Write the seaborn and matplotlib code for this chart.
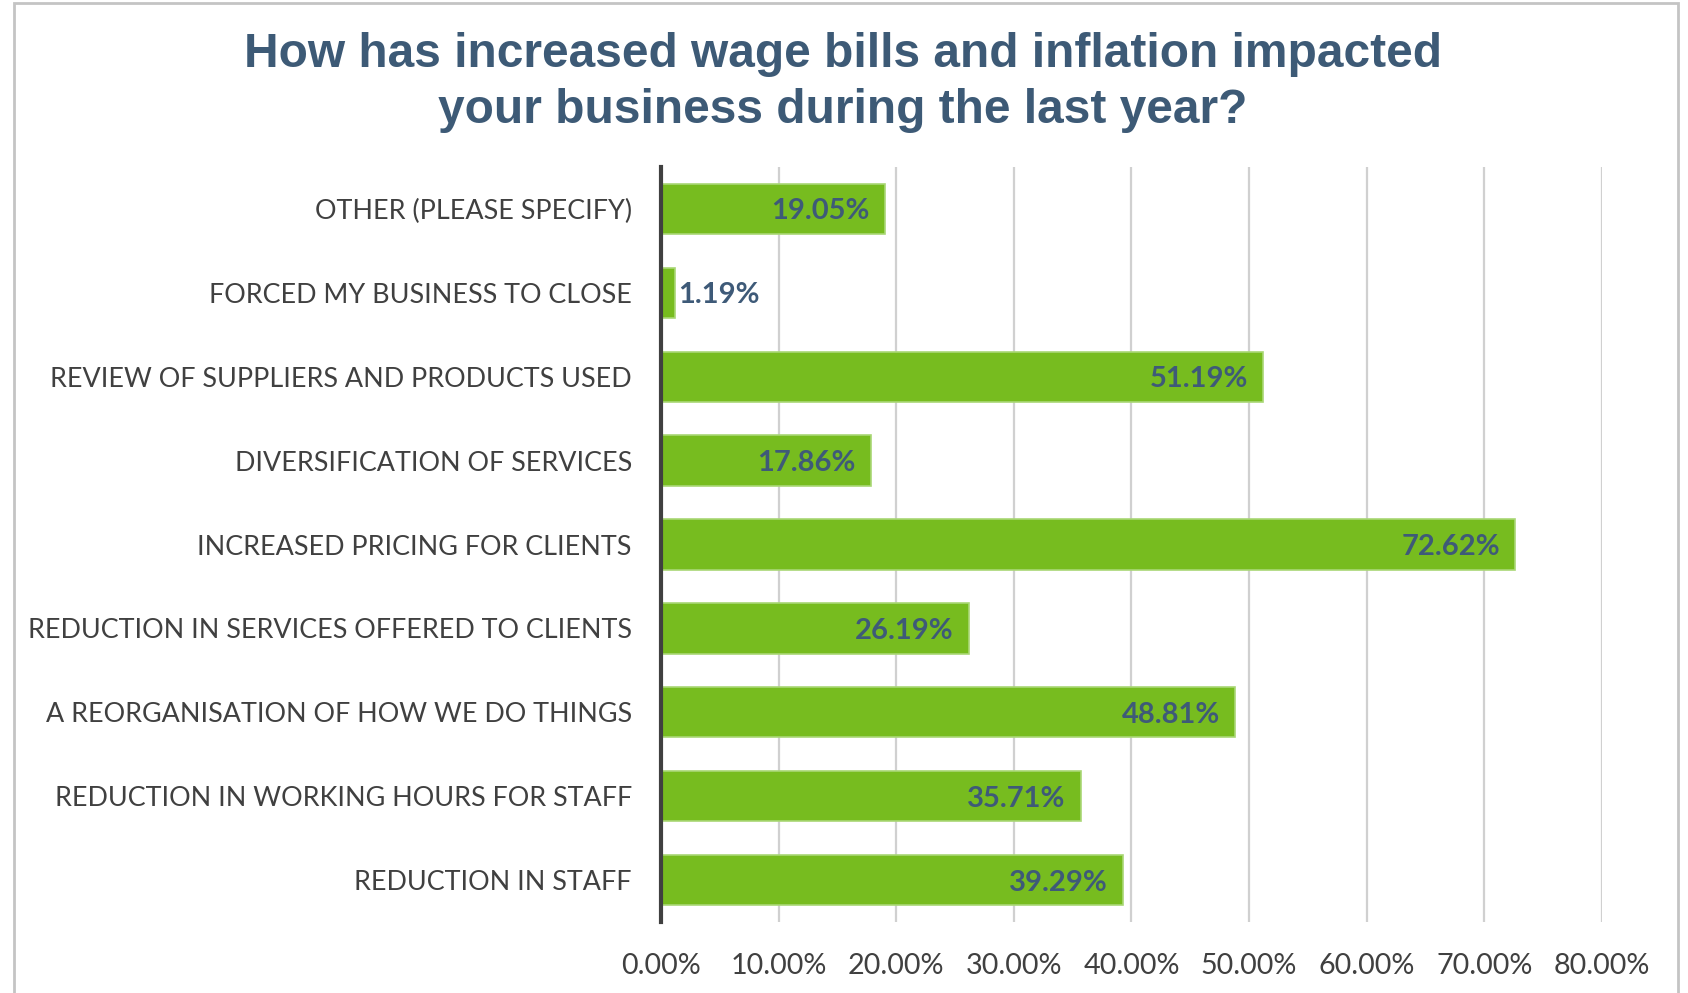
import matplotlib
matplotlib.use("Agg")
import matplotlib.pyplot as plt
from matplotlib.patches import Rectangle
import seaborn as sns
import pandas as pd

# Survey responses (share of respondents, %)
categories = [
    "OTHER (PLEASE SPECIFY)",
    "FORCED MY BUSINESS TO CLOSE",
    "REVIEW OF SUPPLIERS AND PRODUCTS USED",
    "DIVERSIFICATION OF SERVICES",
    "INCREASED PRICING FOR CLIENTS",
    "REDUCTION IN SERVICES OFFERED TO CLIENTS",
    "A REORGANISATION OF HOW WE DO THINGS",
    "REDUCTION IN WORKING HOURS FOR STAFF",
    "REDUCTION IN STAFF",
]
values = [19.05, 1.19, 51.19, 17.86, 72.62, 26.19, 48.81, 35.71, 39.29]
x_ticks = [0, 10, 20, 30, 40, 50, 60, 70, 80]
x_tick_labels = ["0.00%", "10.00%", "20.00%", "30.00%", "40.00%",
                 "50.00%", "60.00%", "70.00%", "80.00%"]
title = "How has increased wage bills and inflation impacted\nyour business during the last year?"

GREEN = "#77BC1F"
GREEN_EDGE = "#A9D775"
LABEL_BLUE = "#3E5A78"
TITLE_BLUE = "#3D5A76"
TEXT_GREY = "#404040"

sns.set_theme(style="white")
plt.rcParams["font.family"] = ["Lato", "DejaVu Sans"]

df = pd.DataFrame({"category": categories, "value": values})

fig = plt.figure(figsize=(16.88, 9.93), dpi=100)
ax = fig.add_axes([0.3916, 0.0715, 0.9490 - 0.3916, 0.8318 - 0.0715])

sns.barplot(data=df, x="value", y="category", order=categories, orient="h",
            color=GREEN, saturation=1, width=0.6, edgecolor=GREEN_EDGE,
            linewidth=1.2, ax=ax)

ax.set_xlim(0, 80)
ax.set_xticks(x_ticks)
ax.set_xticklabels(x_tick_labels)
ax.set_xlabel("")
ax.set_ylabel("")
ax.grid(axis="x", color="#D0D0D0", linewidth=1.6)
ax.grid(axis="y", visible=False)
ax.set_axisbelow(True)

for side in ("top", "right", "bottom"):
    ax.spines[side].set_visible(False)
ax.spines["left"].set_color(TEXT_GREY)
ax.spines["left"].set_linewidth(3)
ax.spines["left"].set_zorder(5)

ax.tick_params(axis="y", length=0, pad=21, labelsize=19.35, labelcolor=TEXT_GREY)
ax.tick_params(axis="x", length=0, pad=22, labelsize=20.7, labelcolor=TEXT_GREY)

# Value labels: inside the bar end, or just outside for very short bars
for i, v in enumerate(values):
    text = f"{v:.2f}%"
    if v < 5:
        ax.text(v + 0.3, i + 0.03, text, ha="left", va="center", fontsize=21,
                fontweight="bold", color=LABEL_BLUE)
    else:
        ax.text(v - 1.3, i + 0.03, text, ha="right", va="center", fontsize=21,
                fontweight="bold", color=LABEL_BLUE)

fig.text(0.4995, 0.917, title, ha="center", va="center",
         fontsize=34.5, fontweight="bold", color=TITLE_BLUE,
         family=["Liberation Sans", "DejaVu Sans"], linespacing=1.33)

# Chart frame
fig.patches.append(Rectangle((14 / 1688, -0.05), (1678 - 14) / 1688, 1.05 - 3 / 993,
                             transform=fig.transFigure, fill=False,
                             edgecolor="#C4C4C4", linewidth=2, clip_on=False))

fig.savefig("out.png", dpi=100, facecolor="white")
